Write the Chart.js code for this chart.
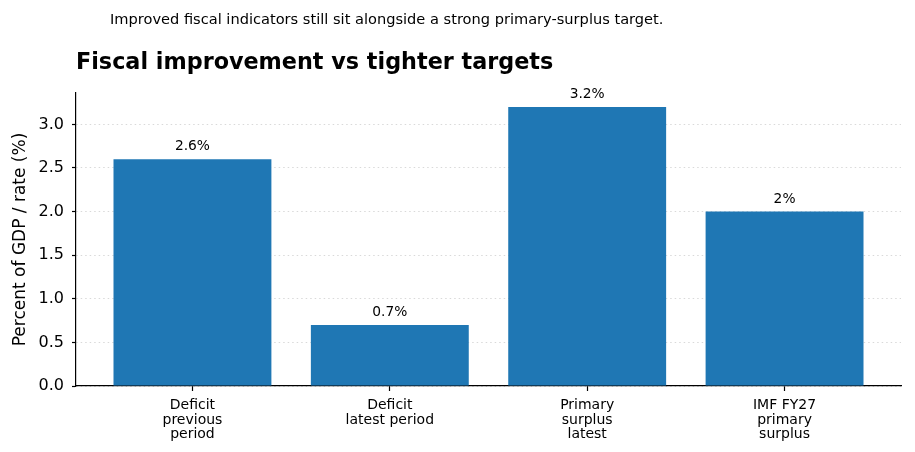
<!DOCTYPE html>
<html>
<head>
<meta charset="utf-8">
<script src="https://cdn.jsdelivr.net/npm/chart.js@4"></script>
<style>
  html, body { margin: 0; padding: 0; background: #fff; }
  #wrap { width: 915px; height: 452px; }
</style>
</head>
<body>
<div id="wrap"><canvas id="fiscal-chart"></canvas></div>
<script>
const categories = [
  ["Deficit", "previous", "period"],
  ["Deficit", "latest period"],
  ["Primary", "surplus", "latest"],
  ["IMF FY27", "primary", "surplus"],
];
const values = [2.6, 0.7, 3.2, 2.0];
const valueLabels = ["2.6%", "0.7%", "3.2%", "2%"];
const yTicks = [0, 0.5, 1.0, 1.5, 2.0, 2.5, 3.0];

const subtitleText = "Improved fiscal indicators still sit alongside a strong primary-surplus target.";
const titleText = "Fiscal improvement vs tighter targets";

const FONT = "'DejaVu Sans', sans-serif";

// header texts + value labels over bars
const textPlugin = {
  id: "texts",
  afterDraw(chart) {
    const ctx = chart.ctx;
    ctx.save();
    ctx.fillStyle = "#000";
    ctx.textBaseline = "alphabetic";
    ctx.textAlign = "left";
    ctx.font = "14.6px " + FONT;
    ctx.fillText(subtitleText, 110, 24);
    ctx.font = "bold 22.3px " + FONT;
    ctx.fillText(titleText, chart.chartArea.left, 69);

    ctx.font = "13.8px " + FONT;
    ctx.textAlign = "center";
    const meta = chart.getDatasetMeta(0);
    meta.data.forEach((bar, i) => {
      ctx.fillText(valueLabels[i], bar.x, bar.y - 9);
    });
    ctx.restore();
  },
};

const ctx = document.getElementById("fiscal-chart").getContext("2d");
new Chart(ctx, {
  type: "bar",
  data: {
    datasets: [
      {
        data: values.map((v, i) => ({ x: i, y: v })),
        backgroundColor: "#1f77b4",
        borderWidth: 0,
        barPercentage: 0.8,
        categoryPercentage: 1.0,
      },
    ],
  },
  plugins: [textPlugin],
  options: {
    responsive: true,
    maintainAspectRatio: false,
    animation: false,
    layout: { padding: { left: 0, right: 14, top: 93, bottom: 0 } },
    plugins: {
      legend: { display: false },
      tooltip: { enabled: false },
    },
    scales: {
      x: {
        type: "linear",
        offset: false,
        min: -0.59,
        max: 3.59,
        afterBuildTicks: (scale) => {
          scale.ticks = categories.map((c, i) => ({ value: i }));
        },
        afterFit: (scale) => { scale.height = 66; },
        ticks: {
          autoSkip: false,
          maxRotation: 0,
          padding: 7,
          color: "#000",
          font: { family: FONT, size: 14, lineHeight: 1.05 },
          callback: (v) => categories[v],
        },
        grid: {
          offset: false,
          drawOnChartArea: false,
          drawTicks: true,
          tickLength: 5,
          tickColor: "#000",
          tickWidth: 1.2,
        },
        border: { display: true, color: "#000", width: 1.2 },
      },
      y: {
        min: 0,
        max: 3.36,
        afterBuildTicks: (scale) => {
          scale.ticks = yTicks.map((v) => ({ value: v }));
        },
        afterFit: (scale) => { scale.width = 76; },
        ticks: {
          padding: 8,
          color: "#000",
          font: { family: FONT, size: 16 },
          callback: (v) => v.toFixed(1),
        },
        title: {
          display: true,
          text: "Percent of GDP / rate (%)",
          color: "#000",
          font: { family: FONT, size: 17 },
          padding: { top: 10, bottom: 0 },
        },
        grid: {
          color: "#d9d9d9",
          lineWidth: 1,
          drawTicks: true,
          tickLength: 4,
          tickColor: "#000",
          tickWidth: 1.2,
          tickBorderDash: [],
        },
        border: { display: true, color: "#000", width: 1.2, dash: [1.5, 3] },
      },
    },
  },
});
</script>
</body>
</html>
